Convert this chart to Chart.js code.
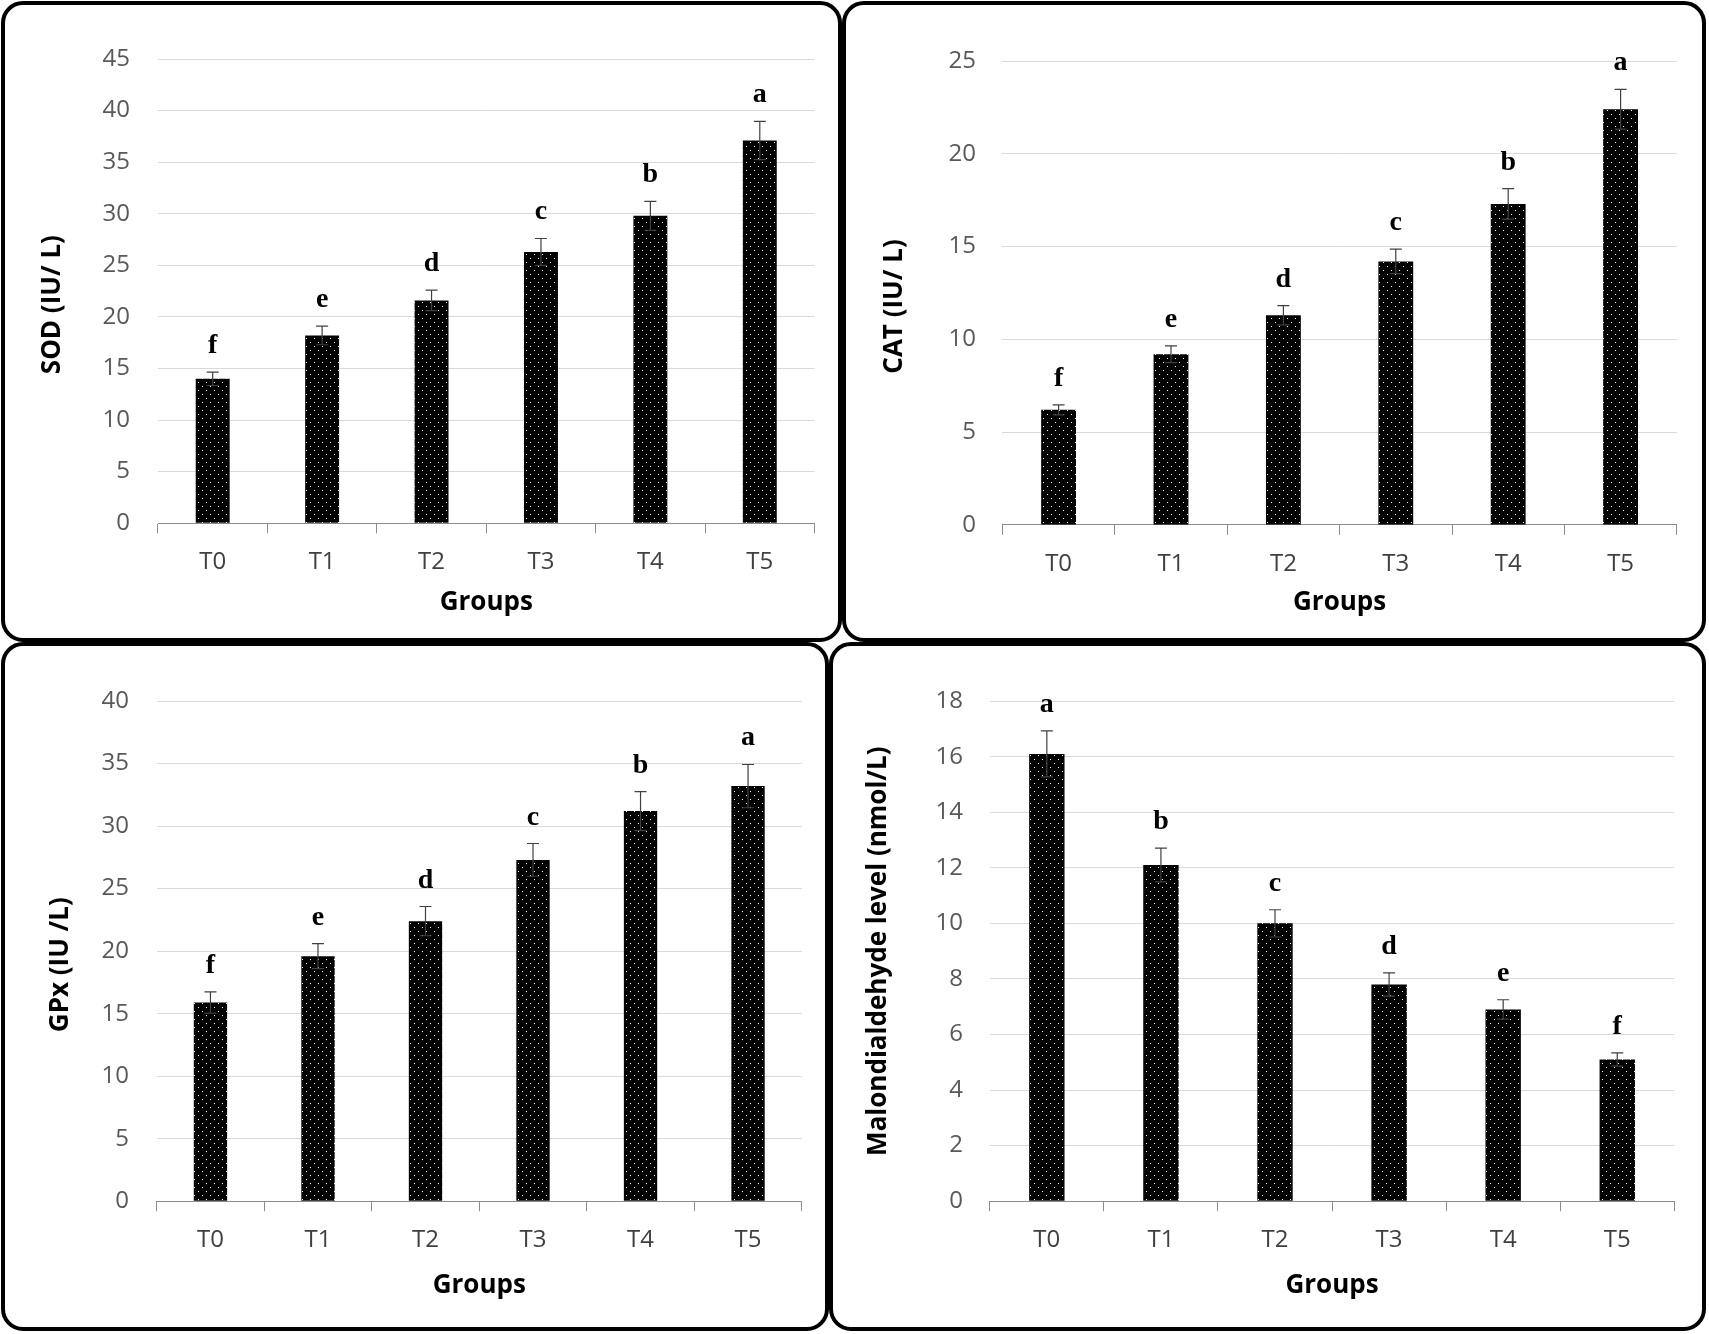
<!DOCTYPE html>
<html>
<head>
<meta charset="utf-8">
<script src="https://cdn.jsdelivr.net/npm/chart.js@4.4.1/dist/chart.umd.min.js"></script>
<style>
  html, body { margin: 0; padding: 0; background: #fff; }
  body { width: 1709px; height: 1334px; position: relative; overflow: hidden; }
  .panel { position: absolute; box-sizing: border-box; border: 4.5px solid #000; border-radius: 22px; pointer-events: none; }
  canvas { position: absolute; }
</style>
</head>
<body>
<script>
// data
const groups = ['T0', 'T1', 'T2', 'T3', 'T4', 'T5'];

const sodValues = [14.0, 18.2, 21.6, 26.3, 29.8, 37.1];
const sodErrors = [0.65, 0.9, 1.0, 1.3, 1.4, 1.85];
const sodLetters = ['f', 'e', 'd', 'c', 'b', 'a'];

const catValues = [6.2, 9.2, 11.3, 14.2, 17.3, 22.4];
const catErrors = [0.27, 0.45, 0.52, 0.66, 0.82, 1.07];
const catLetters = ['f', 'e', 'd', 'c', 'b', 'a'];

const gpxValues = [15.9, 19.6, 22.4, 27.3, 31.2, 33.2];
const gpxErrors = [0.85, 1.0, 1.17, 1.31, 1.56, 1.73];
const gpxLetters = ['f', 'e', 'd', 'c', 'b', 'a'];

const mdaValues = [16.1, 12.1, 10.0, 7.8, 6.9, 5.1];
const mdaErrors = [0.83, 0.61, 0.49, 0.42, 0.35, 0.24];
const mdaLetters = ['a', 'b', 'c', 'd', 'e', 'f'];

const sodTicks = { max: 45, step: 5 };
const catTicks = { max: 25, step: 5 };
const gpxTicks = { max: 40, step: 5 };
const mdaTicks = { max: 18, step: 2 };

// fonts
const TICK_SIZE = 24;
const TITLE_SIZE = 26;
const LETTER_SIZE = 28;
const TICK_LH = TICK_SIZE * 1.2;
const TITLE_LH = TITLE_SIZE * 1.2;
const X_TICK_LEN = 10;
const LETTER_GAP = 19;

// panel layout (page pixels): box = panel frame, plot = chart area
// the y titles sit a little below the plot middle in the original, trailing spaces push them down
const panels = [
    { title: 'SOD (IU/ L)\u00a0\u00a0\u00a0\u00a0', values: sodValues, errors: sodErrors, letters: sodLetters, ticks: sodTicks,
      box: [1, 1, 842, 642], plot: [158, 59, 814.5, 523.2], yTickRight: 130, yTitleX: 53, xLabelY: 562, xTitleY: 603 },
    { title: 'CAT (IU/ L)\u00a0\u00a0\u00a0\u00a0', values: catValues, errors: catErrors, letters: catLetters, ticks: catTicks,
      box: [842, 1, 1706, 642], plot: [1002.4, 61, 1676.8, 524.9], yTickRight: 976, yTitleX: 895, xLabelY: 564, xTitleY: 603 },
    { title: 'GPx (IU /L)\u00a0\u00a0\u00a0\u00a0', values: gpxValues, errors: gpxErrors, letters: gpxLetters, ticks: gpxTicks,
      box: [1, 642, 829, 1331], plot: [156.7, 701.1, 801.8, 1201.2], yTickRight: 129, yTitleX: 61, xLabelY: 1240, xTitleY: 1286 },
    { title: 'Malondialdehyde level (nmol/L)', values: mdaValues, errors: mdaErrors, letters: mdaLetters, ticks: mdaTicks,
      box: [829, 642, 1706, 1331], plot: [989.8, 701.1, 1674.3, 1201.2], yTickRight: 963, yTitleX: 879, xLabelY: 1240, xTitleY: 1286 },
];

// black fill with white dots, like the excel "dotted" pattern
function makeDotPattern(ctx) {
    const tile = document.createElement('canvas');
    tile.width = 8;
    tile.height = 8;
    const t = tile.getContext('2d');
    t.fillStyle = '#000';
    t.fillRect(0, 0, 8, 8);
    t.fillStyle = '#fff';
    t.fillRect(1, 1, 1, 1);
    t.fillRect(5, 5, 1, 1);
    return ctx.createPattern(tile, 'repeat');
}

// error bars (mean +/- error) drawn through the y scale
const errorBarPlugin = {
    id: 'errorBars',
    afterDatasetsDraw(chart, args, opts) {
        const ctx = chart.ctx;
        const yScale = chart.scales.y;
        const meta = chart.getDatasetMeta(0);
        ctx.save();
        ctx.strokeStyle = '#404040';
        ctx.lineWidth = 1.2;
        meta.data.forEach((bar, i) => {
            const v = opts.values[i];
            const e = opts.errors[i];
            const top = yScale.getPixelForValue(v + e);
            const bottom = yScale.getPixelForValue(v - e);
            ctx.beginPath();
            ctx.moveTo(bar.x, top);
            ctx.lineTo(bar.x, bottom);
            ctx.moveTo(bar.x - 6, top);
            ctx.lineTo(bar.x + 6, top);
            ctx.moveTo(bar.x - 6, bottom);
            ctx.lineTo(bar.x + 6, bottom);
            ctx.stroke();
        });
        ctx.restore();
    }
};

// significance letters above the error bars
const letterPlugin = {
    id: 'letters',
    afterDatasetsDraw(chart, args, opts) {
        const ctx = chart.ctx;
        const yScale = chart.scales.y;
        const meta = chart.getDatasetMeta(0);
        ctx.save();
        ctx.fillStyle = '#000';
        ctx.font = 'bold ' + LETTER_SIZE + 'px "Liberation Serif", "Times New Roman", serif';
        ctx.textAlign = 'center';
        ctx.textBaseline = 'alphabetic';
        meta.data.forEach((bar, i) => {
            const y = yScale.getPixelForValue(opts.values[i] + opts.errors[i]);
            ctx.fillText(opts.letters[i], bar.x, y - LETTER_GAP);
        });
        ctx.restore();
    }
};

function drawPanel(p) {
    const [bx0, by0, bx1, by1] = p.box;
    const [px0, py0, px1, py1] = p.plot;
    const w = bx1 - bx0;
    const h = by1 - by0;

    const canvas = document.createElement('canvas');
    canvas.width = w;
    canvas.height = h;
    canvas.style.left = bx0 + 'px';
    canvas.style.top = by0 + 'px';
    canvas.style.width = w + 'px';
    canvas.style.height = h + 'px';
    document.body.appendChild(canvas);

    const frame = document.createElement('div');
    frame.className = 'panel';
    frame.style.left = bx0 + 'px';
    frame.style.top = by0 + 'px';
    frame.style.width = w + 'px';
    frame.style.height = h + 'px';
    document.body.appendChild(frame);

    const ctx = canvas.getContext('2d');

    new Chart(ctx, {
        type: 'bar',
        data: {
            labels: groups,
            datasets: [{
                data: p.values,
                backgroundColor: makeDotPattern(ctx),
                borderWidth: 0,
                barPercentage: 0.31,
                categoryPercentage: 1.0,
            }]
        },
        options: {
            responsive: false,
            animation: false,
            events: [],
            layout: {
                padding: { top: py0 - by0, right: bx1 - px1, left: 0, bottom: 0 }
            },
            plugins: {
                legend: { display: false },
                tooltip: { enabled: false },
                errorBars: { values: p.values, errors: p.errors },
                letters: { values: p.values, errors: p.errors, letters: p.letters },
            },
            scales: {
                x: {
                    offset: true,
                    grid: {
                        offset: true,
                        drawOnChartArea: false,
                        drawTicks: true,
                        tickLength: X_TICK_LEN,
                        color: '#8c8c8c',
                    },
                    border: { display: true, color: '#8c8c8c', width: 1 },
                    ticks: {
                        color: '#404040',
                        font: { family: '"Open Sans", sans-serif', size: TICK_SIZE, lineHeight: 1.2 },
                        padding: p.xLabelY - py1 - X_TICK_LEN - TICK_LH / 2,
                        maxRotation: 0,
                    },
                    title: {
                        display: true,
                        text: 'Groups',
                        color: '#000',
                        font: { family: '"Open Sans", sans-serif', size: TITLE_SIZE, weight: 'bold', lineHeight: 1.2 },
                        padding: { top: 0, bottom: by1 - p.xTitleY - TITLE_LH / 2 },
                    },
                    afterFit(scale) { scale.height = by1 - py1; },
                },
                y: {
                    min: 0,
                    max: p.ticks.max,
                    grid: { color: '#d9d9d9', lineWidth: 1, drawTicks: false },
                    border: { display: false },
                    ticks: {
                        stepSize: p.ticks.step,
                        color: '#595959',
                        font: { family: '"Open Sans", sans-serif', size: TICK_SIZE, lineHeight: 1.2 },
                        padding: px0 - p.yTickRight,
                    },
                    title: {
                        display: true,
                        text: p.title,
                        color: '#000',
                        font: { family: '"Open Sans", sans-serif', size: TITLE_SIZE, weight: 'bold', lineHeight: 1.2 },
                        padding: { top: p.yTitleX - bx0 - TITLE_LH / 2, bottom: 0 },
                    },
                    afterFit(scale) { scale.width = px0 - bx0; },
                }
            }
        },
        plugins: [errorBarPlugin, letterPlugin]
    });
}

panels.forEach(drawPanel);
</script>
</body>
</html>
